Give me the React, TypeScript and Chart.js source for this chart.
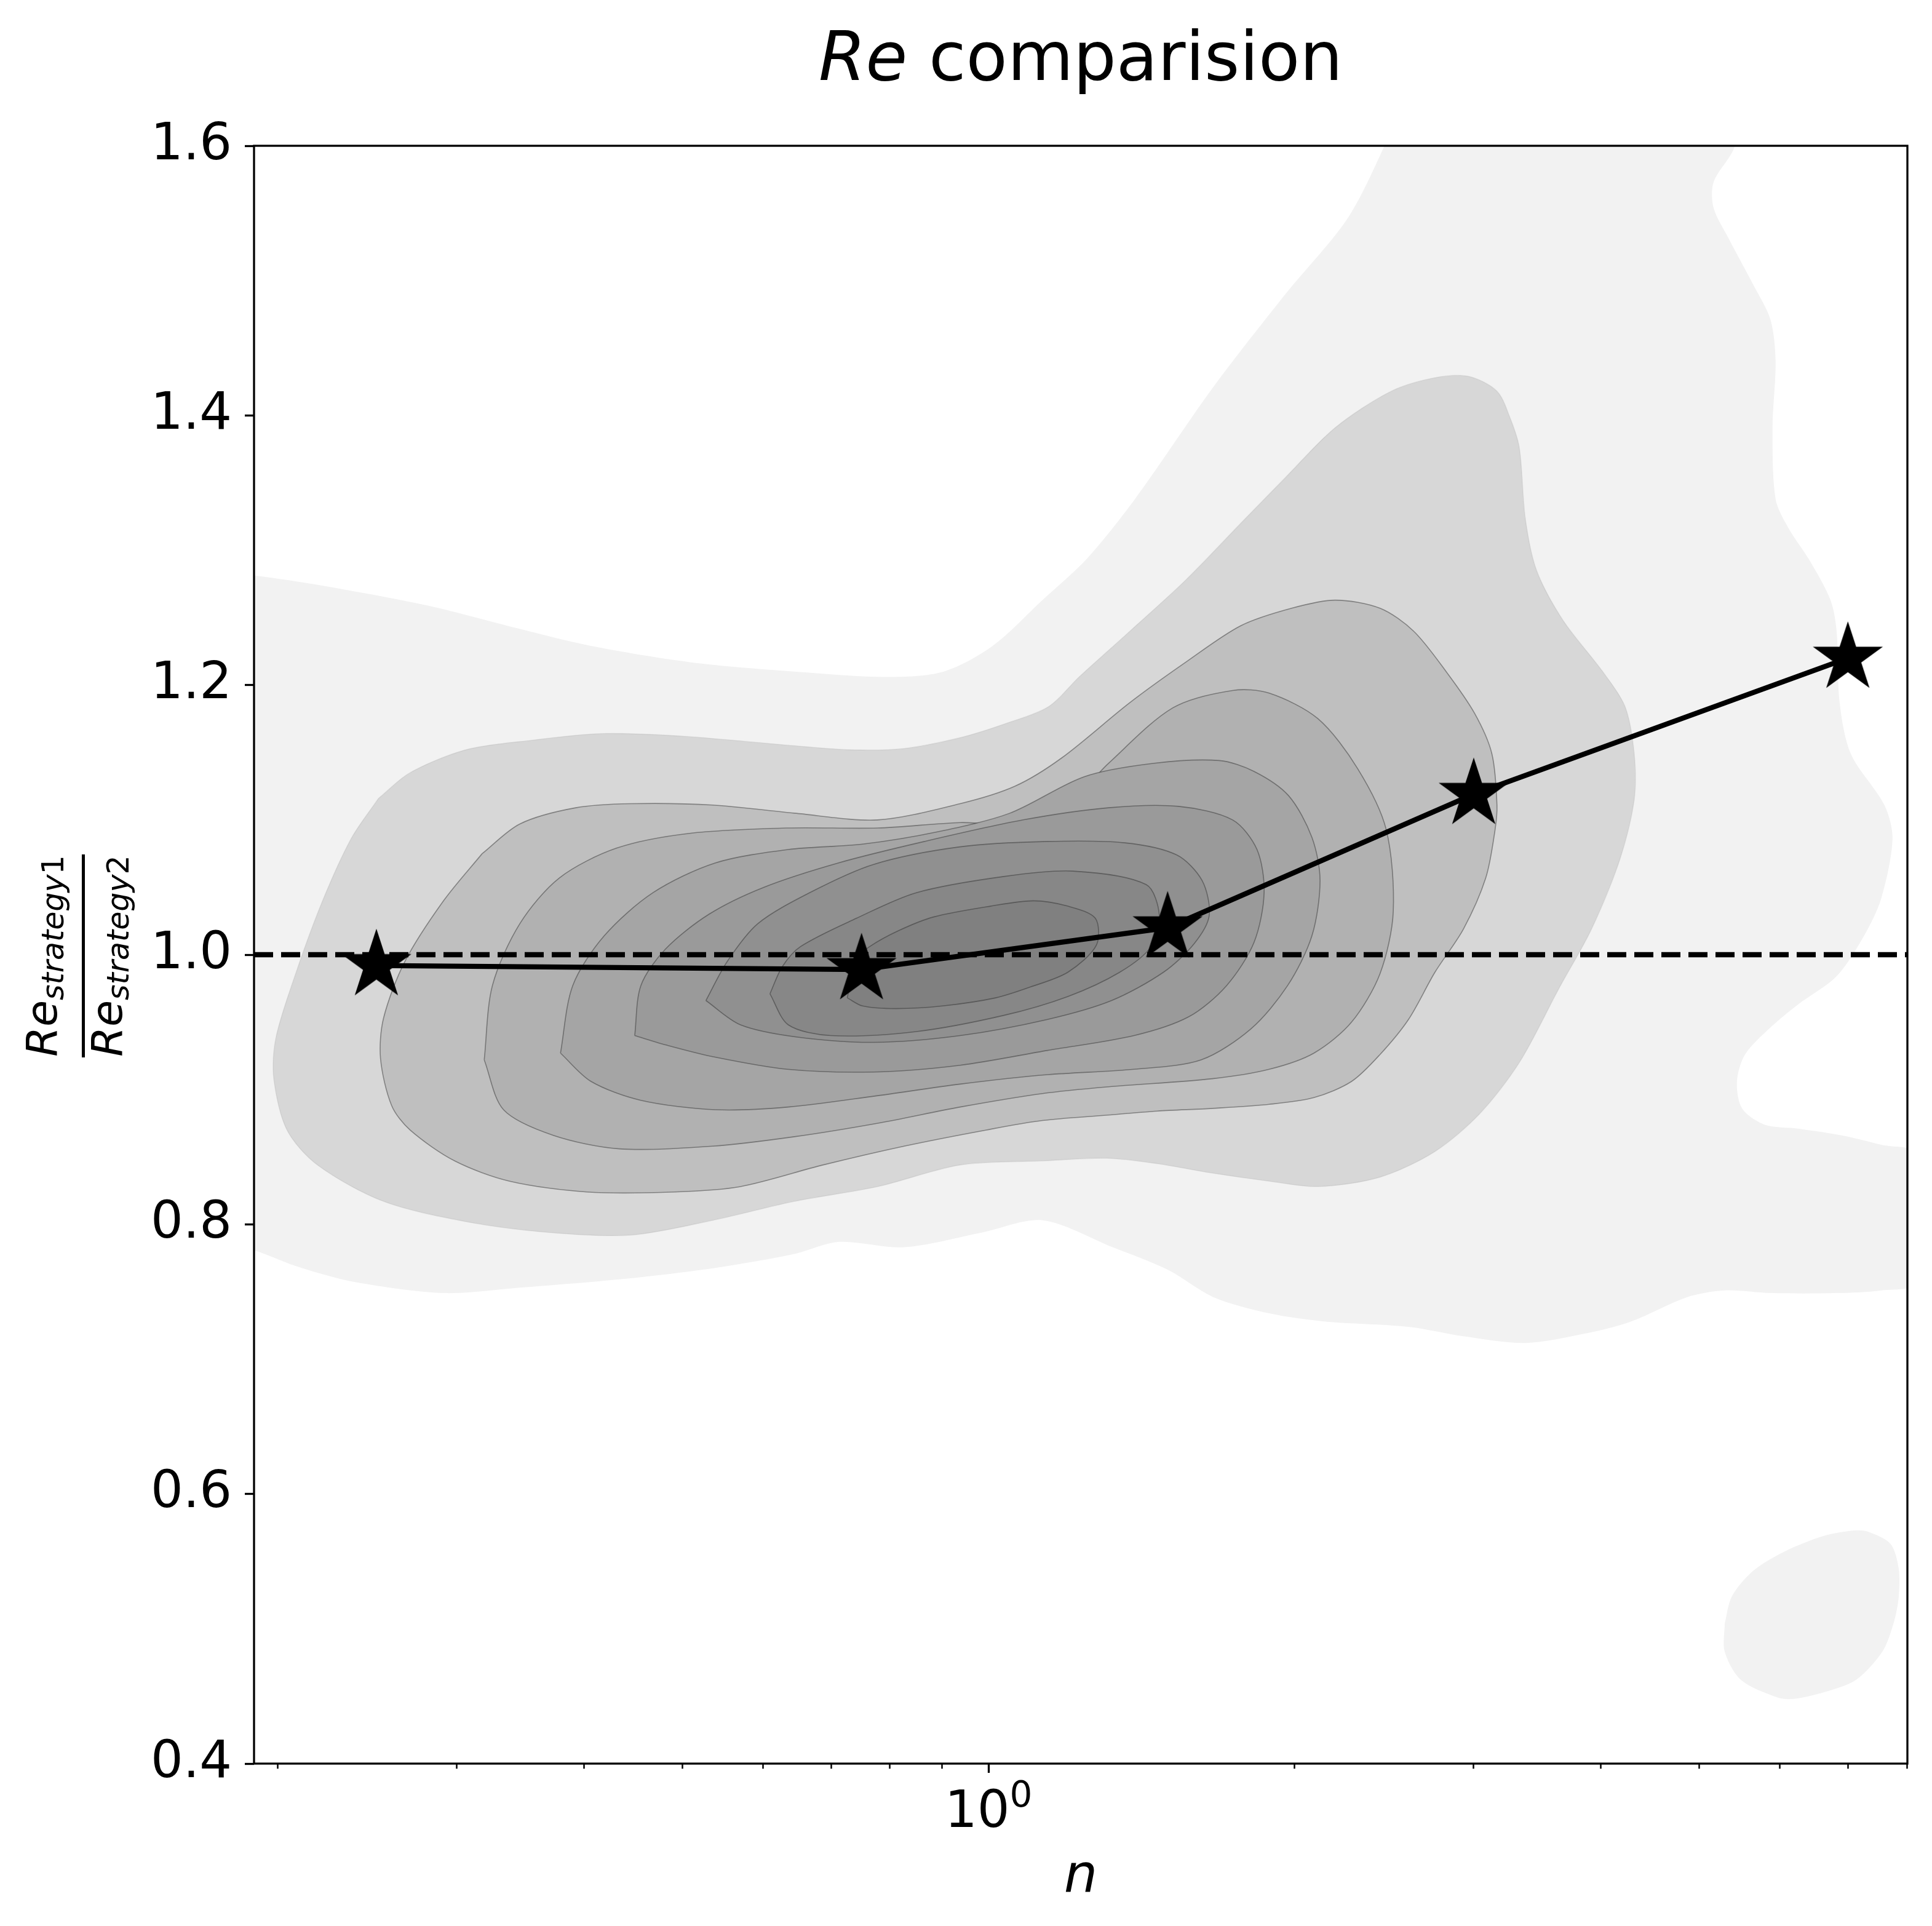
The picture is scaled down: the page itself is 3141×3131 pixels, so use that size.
import React, { useEffect, useRef } from "react";
import { Chart, registerables } from "chart.js";

Chart.register(...registerables);

// ---------------- data ----------------
const starN = [0.25, 0.75, 1.5, 3, 7];
const starRatio = [0.992, 0.989, 1.02, 1.119, 1.22];
const refRatio = 1.0;

const xMin = 0.1895;
const xMax = 8.01;
const yMin = 0.4;
const yMax = 1.6;
const yTicks = [0.4, 0.6, 0.8, 1.0, 1.2, 1.4, 1.6];
const xMajorTicks = [1];
const xMinorTicks = [0.2, 0.3, 0.4, 0.5, 0.6, 0.7, 0.8, 0.9, 2, 3, 4, 5, 6, 7, 8];

// KDE contour bands, points as [log10(n), ratio]
const kdeLevel1Main = [
  [-0.742, 1.282], [-0.719, 1.281], [-0.657, 1.274], [-0.552, 1.259], [-0.463, 1.242],
  [-0.391, 1.229], [-0.294, 1.217], [-0.191, 1.21], [-0.099, 1.206], [-0.044, 1.21],
  [0.004, 1.229], [0.053, 1.263], [0.097, 1.294], [0.144, 1.338], [0.221, 1.421],
  [0.292, 1.49], [0.353, 1.546], [0.39, 1.601], [0.397, 1.617], [0.736, 1.617],
  [0.733, 1.598], [0.713, 1.573], [0.713, 1.554], [0.728, 1.531], [0.752, 1.497],
  [0.769, 1.471], [0.774, 1.44], [0.771, 1.391], [0.774, 1.338], [0.787, 1.316],
  [0.807, 1.293], [0.828, 1.263], [0.834, 1.24], [0.837, 1.187], [0.848, 1.149],
  [0.881, 1.111], [0.889, 1.086], [0.878, 1.042], [0.861, 1.014], [0.834, 0.984],
  [0.796, 0.963], [0.769, 0.946], [0.744, 0.926], [0.736, 0.906], [0.741, 0.886],
  [0.763, 0.874], [0.796, 0.871], [0.839, 0.866], [0.878, 0.859], [0.918, 0.851],
  [0.918, 0.758], [0.878, 0.751], [0.834, 0.749], [0.769, 0.749], [0.724, 0.751],
  [0.687, 0.746], [0.632, 0.728], [0.587, 0.719], [0.528, 0.712], [0.467, 0.717],
  [0.413, 0.724], [0.33, 0.728], [0.276, 0.734], [0.221, 0.746], [0.177, 0.766],
  [0.122, 0.783], [0.053, 0.803], [-0.006, 0.794], [-0.083, 0.783], [-0.147, 0.787],
  [-0.191, 0.778], [-0.266, 0.768], [-0.352, 0.76], [-0.461, 0.753], [-0.536, 0.749],
  [-0.622, 0.757], [-0.677, 0.768], [-0.719, 0.78], [-0.742, 0.785],
];
const kdeLevel1Blob = [
  [0.724, 0.504], [0.731, 0.524], [0.752, 0.543], [0.782, 0.557], [0.822, 0.569],
  [0.853, 0.573], [0.865, 0.572], [0.887, 0.563], [0.895, 0.545], [0.895, 0.523],
  [0.89, 0.504], [0.879, 0.483], [0.853, 0.462], [0.822, 0.453], [0.792, 0.448],
  [0.776, 0.449], [0.74, 0.462], [0.724, 0.483],
];
const kdeLevel2 = [
  [-0.6, 1.116], [-0.569, 1.135], [-0.514, 1.152], [-0.45, 1.159], [-0.38, 1.164],
  [-0.299, 1.162], [-0.191, 1.155], [-0.136, 1.152], [-0.083, 1.153], [-0.028, 1.161],
  [0.015, 1.171], [0.059, 1.184], [0.089, 1.206], [0.139, 1.24], [0.194, 1.278],
  [0.248, 1.32], [0.292, 1.354], [0.341, 1.391], [0.396, 1.418], [0.439, 1.428],
  [0.472, 1.429], [0.5, 1.418], [0.513, 1.398], [0.522, 1.376], [0.528, 1.323],
  [0.539, 1.285], [0.565, 1.248], [0.604, 1.21], [0.626, 1.184], [0.635, 1.149],
  [0.635, 1.115], [0.621, 1.071], [0.593, 1.019], [0.561, 0.975], [0.522, 0.92],
  [0.483, 0.882], [0.439, 0.854], [0.385, 0.835], [0.324, 0.828], [0.276, 0.832],
  [0.22, 0.838], [0.166, 0.845], [0.117, 0.849], [0.053, 0.847], [-0.028, 0.844],
  [-0.109, 0.828], [-0.191, 0.817], [-0.271, 0.803], [-0.352, 0.792], [-0.433, 0.794],
  [-0.514, 0.802], [-0.595, 0.817], [-0.66, 0.844], [-0.69, 0.87], [-0.703, 0.908],
  [-0.701, 0.938], [-0.681, 0.987], [-0.655, 1.04], [-0.627, 1.086],
];
const kdeLevel3 = [
  [-0.498, 1.075], [-0.461, 1.097], [-0.406, 1.109], [-0.352, 1.112], [-0.271, 1.111],
  [-0.191, 1.105], [-0.109, 1.1], [-0.028, 1.112], [0.026, 1.125], [0.072, 1.146],
  [0.139, 1.187], [0.194, 1.217], [0.248, 1.244], [0.298, 1.257], [0.341, 1.263],
  [0.385, 1.257], [0.418, 1.24], [0.45, 1.21], [0.478, 1.179], [0.495, 1.149],
  [0.5, 1.111], [0.498, 1.092], [0.489, 1.057], [0.467, 1.019], [0.439, 0.987],
  [0.413, 0.952], [0.385, 0.926], [0.357, 0.906], [0.32, 0.894], [0.276, 0.889],
  [0.22, 0.886], [0.166, 0.884], [0.117, 0.881], [0.053, 0.877], [-0.002, 0.87],
  [-0.083, 0.858], [-0.163, 0.844], [-0.244, 0.828], [-0.309, 0.824], [-0.395, 0.824],
  [-0.471, 0.832], [-0.525, 0.847], [-0.569, 0.87], [-0.587, 0.888], [-0.598, 0.923],
  [-0.595, 0.953], [-0.574, 0.995], [-0.536, 1.04],
];
const kdeLevel4 = [
  [-0.496, 0.922], [-0.488, 0.977], [-0.461, 1.023], [-0.422, 1.057], [-0.366, 1.079],
  [-0.294, 1.09], [-0.197, 1.094], [-0.109, 1.094], [-0.028, 1.098], [0.057, 1.098],
  [0.118, 1.142], [0.181, 1.183], [0.24, 1.196], [0.276, 1.194], [0.324, 1.175],
  [0.363, 1.138], [0.391, 1.093], [0.398, 1.032], [0.385, 0.986], [0.357, 0.95],
  [0.32, 0.927], [0.276, 0.915], [0.22, 0.908], [0.118, 0.902], [0.053, 0.897],
  [-0.028, 0.887], [-0.109, 0.875], [-0.191, 0.865], [-0.271, 0.858], [-0.363, 0.856],
  [-0.428, 0.866], [-0.477, 0.885],
];
const kdeLevel5 = [
  [-0.421, 0.927], [-0.409, 0.977], [-0.378, 1.014], [-0.33, 1.046], [-0.269, 1.068],
  [-0.197, 1.078], [-0.124, 1.082], [-0.051, 1.091], [0.021, 1.105], [0.094, 1.132],
  [0.163, 1.142], [0.227, 1.144], [0.261, 1.136], [0.295, 1.118], [0.318, 1.087],
  [0.326, 1.055], [0.318, 1.014], [0.294, 0.977], [0.258, 0.945], [0.209, 0.922],
  [0.143, 0.915], [0.058, 0.911], [-0.028, 0.904], [-0.113, 0.895], [-0.197, 0.887],
  [-0.269, 0.885], [-0.342, 0.892], [-0.391, 0.906],
];
const kdeLevel6 = [
  [-0.348, 0.94], [-0.342, 0.977], [-0.318, 1.004], [-0.275, 1.03], [-0.221, 1.05],
  [-0.148, 1.068], [-0.063, 1.084], [0.034, 1.1], [0.118, 1.109], [0.187, 1.11],
  [0.24, 1.1], [0.264, 1.078], [0.271, 1.046], [0.261, 1.009], [0.234, 0.977],
  [0.197, 0.954], [0.143, 0.94], [0.058, 0.929], [-0.028, 0.918], [-0.113, 0.913],
  [-0.198, 0.915], [-0.269, 0.924], [-0.317, 0.933],
];
const kdeLevel7 = [
  [-0.278, 0.966], [-0.257, 0.995], [-0.227, 1.023], [-0.176, 1.046], [-0.113, 1.067],
  [-0.028, 1.08], [0.058, 1.084], [0.134, 1.083], [0.185, 1.074], [0.21, 1.055],
  [0.217, 1.029], [0.202, 1.008], [0.172, 0.987], [0.121, 0.966], [0.058, 0.952],
  [-0.028, 0.94], [-0.113, 0.935], [-0.189, 0.939], [-0.244, 0.948],
];
const kdeLevel8 = [
  [-0.215, 0.971], [-0.203, 0.991], [-0.185, 1.006], [-0.13, 1.027], [-0.071, 1.046],
  [0.015, 1.058], [0.083, 1.062], [0.155, 1.052], [0.168, 1.029], [0.16, 1.006],
  [0.129, 0.987], [0.078, 0.969], [0.015, 0.955], [-0.071, 0.943], [-0.155, 0.94],
  [-0.197, 0.948],
];
const kdeLevel9 = [
  [-0.139, 0.968], [-0.13, 0.997], [-0.117, 1.006], [-0.088, 1.018], [-0.054, 1.028],
  [0.002, 1.036], [0.044, 1.04], [0.078, 1.036], [0.105, 1.027], [0.106, 1.007],
  [0.078, 0.987], [0.041, 0.976], [0.007, 0.968], [-0.045, 0.962], [-0.091, 0.96],
  [-0.124, 0.962],
];

const levelColors = [
  "#f2f2f2", "#d7d7d7", "#bfbfbf", "#b1b1b1", "#a5a5a5",
  "#9a9a9a", "#909090", "#878787", "#808080",
];

// ---------------- helpers ----------------
const FAM = '"DejaVu Sans", sans-serif';

function makeStar(R: number): HTMLCanvasElement {
  const c = document.createElement("canvas");
  const s = Math.ceil(2 * R + 10);
  c.width = s;
  c.height = s;
  const g = c.getContext("2d")!;
  g.translate(s / 2, s / 2);
  g.beginPath();
  for (let i = 0; i < 10; i++) {
    const r = i % 2 === 0 ? R : R * 0.381966;
    const a = -Math.PI / 2 + (i * Math.PI) / 5;
    const px = r * Math.cos(a);
    const py = r * Math.sin(a);
    if (i === 0) g.moveTo(px, py);
    else g.lineTo(px, py);
  }
  g.closePath();
  g.fillStyle = "#000";
  g.fill();
  g.lineWidth = 3;
  g.lineJoin = "miter";
  g.strokeStyle = "#000";
  g.stroke();
  return c;
}

const toPts = (poly: number[][]) => {
  const pts = poly.map(([lx, y]) => ({ x: Math.pow(10, lx), y }));
  pts.push({ ...pts[0] });
  return pts;
};

const framePlugin = {
  id: "frame",
  afterDatasetsDraw(chart: any) {
    const { ctx, chartArea: a } = chart;
    ctx.save();
    ctx.strokeStyle = "#000";
    ctx.lineWidth = 3.3;
    ctx.strokeRect(a.left, a.top, a.right - a.left, a.bottom - a.top);
    ctx.restore();
  },
};

const textPlugin = {
  id: "texts",
  afterDraw(chart: any) {
    const { ctx, chartArea: a } = chart;
    const cx = (a.left + a.right) / 2;
    ctx.save();
    ctx.fillStyle = "#000";
    ctx.textBaseline = "alphabetic";
    ctx.textAlign = "left";
    // title
    const tSize = 110;
    ctx.font = `italic ${tSize}px ${FAM}`;
    const w1 = ctx.measureText("Re").width;
    ctx.font = `${tSize}px ${FAM}`;
    const w2 = ctx.measureText(" comparision").width;
    const tx = cx - (w1 + w2) / 2;
    ctx.font = `italic ${tSize}px ${FAM}`;
    ctx.fillText("Re", tx, 130);
    ctx.font = `${tSize}px ${FAM}`;
    ctx.fillText(" comparision", tx + w1, 130);
    // x major tick labels (10^k with raised exponent)
    const xs = chart.scales.x;
    for (const v of xMajorTicks) {
      const px = xs.getPixelForValue(v);
      const e = String(Math.round(Math.log10(v)));
      ctx.font = `83px ${FAM}`;
      const wb = ctx.measureText("10").width;
      ctx.font = `58px ${FAM}`;
      const we = ctx.measureText(e).width;
      const x0 = px - (wb + we) / 2;
      ctx.font = `83px ${FAM}`;
      ctx.fillText("10", x0, a.bottom + 103);
      ctx.font = `58px ${FAM}`;
      ctx.fillText(e, x0 + wb, a.bottom + 70);
    }
    // x label
    ctx.font = `italic 86px ${FAM}`;
    ctx.textAlign = "center";
    ctx.fillText("n", cx, 3075);
    // y label (fraction)
    ctx.textAlign = "left";
    ctx.translate(135.5, (a.top + a.bottom) / 2 + 2);
    ctx.rotate(-Math.PI / 2);
    ctx.fillRect(-165, -2.5, 330, 5);
    const drawRe = (digit: string, v: number) => {
      ctx.font = `italic 70px ${FAM}`;
      const wr = ctx.measureText("Re").width;
      ctx.font = `italic 49px ${FAM}`;
      const ws = ctx.measureText("strategy").width;
      ctx.font = `49px ${FAM}`;
      const wd = ctx.measureText(digit).width;
      let u = -(wr + ws + wd) / 2;
      ctx.font = `italic 70px ${FAM}`;
      ctx.fillText("Re", u, v);
      u += wr;
      ctx.font = `italic 49px ${FAM}`;
      ctx.fillText("strategy", u, v + 11);
      u += ws;
      ctx.font = `49px ${FAM}`;
      ctx.fillText(digit, u, v + 11);
    };
    drawRe("1", -43.5);
    drawRe("2", 62.5);
    ctx.restore();
  },
};

export default function App() {
  const ref = useRef<HTMLCanvasElement | null>(null);

  useEffect(() => {
    if (!ref.current) return;
    const star = makeStar(55);
    const levels = [
      kdeLevel9, kdeLevel8, kdeLevel7, kdeLevel6, kdeLevel5,
      kdeLevel4, kdeLevel3, kdeLevel2,
    ];
    const levelIdx = [8, 7, 6, 5, 4, 3, 2, 1];
    const contourSets: any[] = levels.map((poly, i) => ({
      data: toPts(poly),
      showLine: true,
      fill: "shape",
      backgroundColor: levelColors[levelIdx[i]],
      borderColor: levelIdx[i] >= 2 ? "rgba(40,40,40,0.45)" : "rgba(0,0,0,0.06)",
      borderWidth: 1.6,
      pointRadius: 0,
      tension: 0.3,
    }));
    contourSets.push({
      data: toPts(kdeLevel1Main),
      showLine: true,
      fill: "shape",
      backgroundColor: levelColors[0],
      borderWidth: 0,
      pointRadius: 0,
      tension: 0.3,
    });
    contourSets.push({
      data: toPts(kdeLevel1Blob),
      showLine: true,
      fill: "shape",
      backgroundColor: levelColors[0],
      borderWidth: 0,
      pointRadius: 0,
      tension: 0.3,
    });

    const chart = new Chart(ref.current, {
      type: "scatter",
      data: {
        datasets: [
          {
            data: starN.map((n, i) => ({ x: n, y: starRatio[i] })),
            showLine: true,
            borderColor: "#000",
            borderWidth: 8.3,
            pointStyle: star as any,
            pointRadius: 5,
            pointBackgroundColor: "#000",
            tension: 0,
            fill: false,
          },
          {
            data: [
              { x: xMin, y: refRatio },
              { x: xMax, y: refRatio },
            ],
            showLine: true,
            borderColor: "#000",
            borderWidth: 8.3,
            borderDash: [31, 13],
            borderCapStyle: "butt",
            pointRadius: 0,
            fill: false,
          },
          ...contourSets,
        ],
      },
      options: {
        responsive: false,
        devicePixelRatio: 1,
        animation: false,
        events: [],
        layout: { padding: { top: 237, right: 40, left: 0, bottom: 0 } },
        elements: { line: { capBezierPoints: false } },
        plugins: {
          legend: { display: false },
          tooltip: { enabled: false },
          title: { display: false },
        },
        scales: {
          xMinor: {
            type: "logarithmic",
            position: "bottom",
            min: xMin,
            max: xMax,
            weight: 0,
            afterBuildTicks: (s: any) => {
              s.ticks = xMinorTicks.map((v) => ({ value: v }));
            },
            afterFit: (s: any) => {
              s.height = 0;
            },
            ticks: { display: false, autoSkip: false },
            grid: {
              display: true,
              drawOnChartArea: false,
              drawTicks: true,
              tickLength: 8.3,
              tickWidth: 2.5,
              tickColor: "#000",
            },
            border: { display: false },
          },
          x: {
            type: "logarithmic",
            position: "bottom",
            min: xMin,
            max: xMax,
            weight: 1,
            afterBuildTicks: (s: any) => {
              s.ticks = xMajorTicks.map((v) => ({ value: v, major: true }));
            },
            afterFit: (s: any) => {
              s.height = 264;
            },
            ticks: { display: false, autoSkip: false },
            grid: {
              display: true,
              drawOnChartArea: false,
              drawTicks: true,
              tickLength: 15,
              tickWidth: 3.3,
              tickColor: "#000",
            },
            border: { display: false },
          },
          y: {
            type: "linear",
            position: "left",
            min: yMin,
            max: yMax,
            afterBuildTicks: (s: any) => {
              s.ticks = yTicks.map((v) => ({ value: v }));
            },
            afterFit: (s: any) => {
              s.width = 413;
            },
            ticks: {
              autoSkip: false,
              padding: 21,
              color: "#000",
              font: { family: FAM, size: 83 },
              callback: (v: any) => Number(v).toFixed(1),
            },
            grid: {
              display: true,
              drawOnChartArea: false,
              drawTicks: true,
              tickLength: 15,
              tickWidth: 3.3,
              tickColor: "#000",
            },
            border: { display: false },
          },
        },
      } as any,
      plugins: [framePlugin, textPlugin],
    });
    return () => chart.destroy();
  }, []);

  return (
    <canvas
      ref={ref}
      width={3141}
      height={3131}
      style={{ position: "absolute", left: 0, top: 0, width: 3141, height: 3131, display: "block", background: "#fff" }}
    />
  );
}
